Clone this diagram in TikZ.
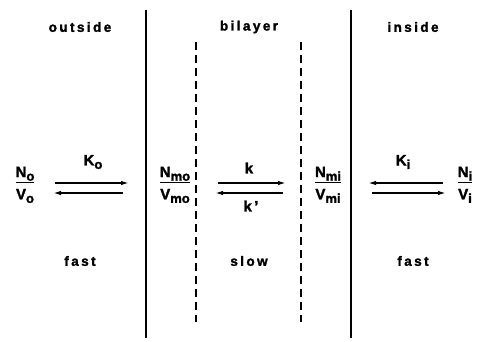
\documentclass[tikz,border=0pt]{standalone}
\usepackage{fontspec}
\setmainfont{Liberation Sans}[BoldFont={Liberation Sans Bold}, BoldFeatures={FakeBold=1.8}]
\usetikzlibrary{arrows.meta}
\newcommand{\sub}[1]{\raisebox{-0.45ex}{\fontsize{13}{14}\selectfont\bfseries #1}}
\newcommand{\frc}[1]{\setlength{\arrayrulewidth}{1.4pt}\begin{tabular}{@{}c@{}}N\sub{#1}\\[0pt]\hline\rule{0pt}{16pt}V\sub{#1}\end{tabular}}
\tikzset{
  lbl/.style={font=\fontsize{13.5}{14}\selectfont\bfseries\addfontfeature{LetterSpace=18}, inner sep=0pt},
  frac/.style={font=\fontsize{15}{16}\selectfont\bfseries, inner sep=0pt},
  wall/.style={line width=1.8pt},
  dwall/.style={line width=1.3pt, dash pattern=on 8pt off 5pt},
  rx/.style={line width=1.5pt, -{Latex[length=8pt,width=4.5pt]}}
}
\begin{document}
\begin{tikzpicture}[x=1pt,y=-1pt]
\useasboundingbox (0,0) rectangle (479,341);
% walls
\coordinate (w1t) at (146,10); \coordinate (w1b) at (146,338);
\coordinate (w2t) at (351,10); \coordinate (w2b) at (351,338);
\coordinate (d1t) at (196,42); \coordinate (d1b) at (196,322);
\coordinate (d2t) at (301,42); \coordinate (d2b) at (301,322);
\draw[wall] (w1t) -- (w1b);
\draw[wall] (w2t) -- (w2b);
\draw[dwall] (d1t) -- (d1b);
\draw[dwall] (d2t) -- (d2b);
% region labels
\node[lbl] (out) at (80,27) {outside};
\node[lbl] (bil) at (249,27) {bilayer};
\node[lbl] (ins) at (413,27) {inside};
\node[lbl] (f1) at (80,261) {fast};
\node[lbl] (sl) at (249,261) {slow};
\node[lbl] (f2) at (413,261) {fast};
% concentrations
\node[frac] (no) at (25,185) {\frc{o}};
\node[frac] (nmo) at (175,185) {\frc{mo}};
\node[frac] (nmi) at (328,185) {\frc{mi}};
\node[frac] (ni) at (465,185) {\frc{i}};
% rate labels
\node[frac] (Ko) at (93,162) {K\sub{o}};
\node[frac] (k) at (249,168) {k};
\node[frac] (kp) at (251,206) {k\,’};
\node[frac] (Ki) at (403,162) {K\sub{i}};
% arrows
\coordinate (a1s) at (55,183); \coordinate (a1e) at (129,183);
\coordinate (a2s) at (123,193); \coordinate (a2e) at (53,193);
\coordinate (b1s) at (218,183); \coordinate (b1e) at (286,183);
\coordinate (b2s) at (283,193); \coordinate (b2e) at (215,193);
\coordinate (c1s) at (443,183); \coordinate (c1e) at (368,183);
\coordinate (c2s) at (372,193); \coordinate (c2e) at (446,193);
\draw[rx] (a1s) -- (a1e);
\draw[rx] (a2s) -- (a2e);
\draw[rx] (b1s) -- (b1e);
\draw[rx] (b2s) -- (b2e);
\draw[rx] (c1s) -- (c1e);
\draw[rx] (c2s) -- (c2e);
\end{tikzpicture}
\end{document}
